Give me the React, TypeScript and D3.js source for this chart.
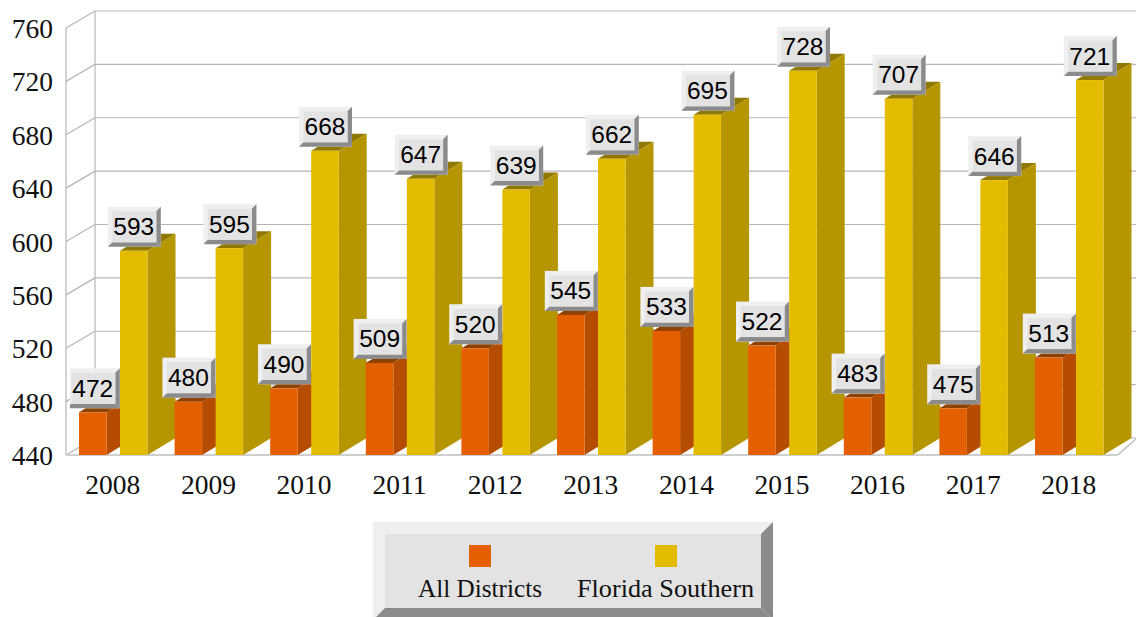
import React from "react";
import * as d3 from "d3";

const years = ["2008","2009","2010","2011","2012","2013","2014","2015","2016","2017","2018"];
const allDistricts = [472,480,490,509,520,545,533,522,483,475,513];
const floridaSouthern = [593,595,668,647,639,662,695,728,707,646,721];
const yTicks = [440,480,520,560,600,640,680,720,760];
const seriesNames = ["All Districts","Florida Southern"];

const W = 1136, H = 617;
const DX = 29, DY = -17;
const x0 = d3.scaleBand<string>().domain(years).range([66, 1117.6]);
const y = d3.scaleLinear().domain([440, 760]).range([455, 28]);
const barW = 27.5;
const GRID = "#b6b6b6";
const ORANGE = "#e35f00", ORANGE_TOP = "#8f4200", ORANGE_SIDE = "#b54c00";
const YEL = "#e3bc00", YEL_TOP = "#917800", YEL_SIDE = "#b59600";
const LIGHT = "#efefef", FACE = "#e3e3e3", DARK = "#8b8b8b";

function Bar({ x, v, c, t, s }: any) {
  const yt = y(v), yb = y(440), d = DX - 1;
  return <g>
    <polygon points={`${x},${yt} ${x+d},${yt+DY} ${x+barW+d},${yt+DY} ${x+barW},${yt}`} fill={t} />
    <polygon points={`${x+barW},${yt} ${x+barW+d},${yt+DY} ${x+barW+d},${yb+DY} ${x+barW},${yb}`} fill={s} />
    <rect x={x} y={yt} width={barW} height={yb-yt} fill={c} />
  </g>;
}

function Bevel({ x, y: yy, w, h, b, children }: any) {
  return <g>
    <rect x={x} y={yy} width={w} height={h} fill={LIGHT} />
    <polygon points={`${x+w},${yy} ${x+w},${yy+h} ${x+w-b},${yy+h-b} ${x+w-b},${yy+b}`} fill={DARK} />
    <polygon points={`${x},${yy+h} ${x+w},${yy+h} ${x+w-b},${yy+h-b} ${x+b},${yy+h-b}`} fill={DARK} />
    <rect x={x+b} y={yy+b} width={w-2*b} height={h-2*b} fill={FACE} />
    {children}
  </g>;
}

function Label({ cx, v }: any) {
  const w = 53, h = 40, by = y(v) - 4 - h, b = 4.5;
  const x = cx - w / 2;
  return <Bevel x={x} y={by} w={w} h={h} b={b}>
    <text x={cx-0.5} y={by+28.5} textAnchor="middle" fontFamily="Liberation Sans" fontSize={24.5} fill="#000">{v}</text>
  </Bevel>;
}

export default function App() {
  const xl = 66, xr = 1117.6;
  return (
    <svg width={W} height={H} style={{ position: "absolute", left: 0, top: 0, background: "#fff" }}>
      <defs><clipPath id="lab"><rect x={70} y={0} width={W} height={H} /></clipPath></defs>
      {yTicks.map(t => <g key={t}>
        <line x1={xl+DX} x2={W} y1={y(t)+DY} y2={y(t)+DY} stroke={GRID} strokeWidth={1.2} />
        <line x1={xl} x2={xl+DX} y1={y(t)} y2={y(t)+DY} stroke={GRID} strokeWidth={1.2} />
      </g>)}
      <line x1={xl} x2={xl} y1={y(760)} y2={y(440)} stroke={GRID} strokeWidth={1.2} />
      <line x1={xl+DX} x2={xl+DX} y1={y(760)+DY} y2={y(440)+DY} stroke={GRID} strokeWidth={1.2} />
      <line x1={xl} x2={xr} y1={y(440)} y2={y(440)} stroke="#cfcfcf" strokeWidth={2} />
      <line x1={xr} x2={W} y1={y(440)} y2={y(440)+DY+1} stroke={GRID} strokeWidth={1.2} />
      {years.map((yr, i) => {
        const c = x0(yr)! + x0.bandwidth() / 2;
        return <g key={yr}>
          <Bar x={c-34.8} v={allDistricts[i]} c={ORANGE} t={ORANGE_TOP} s={ORANGE_SIDE} />
          <Bar x={c+6.2} v={floridaSouthern[i]} c={YEL} t={YEL_TOP} s={YEL_SIDE} />
          <text x={c-1} y={494} textAnchor="middle" fontFamily="Liberation Serif" fontSize={27.5} fill="#111">{yr}</text>
        </g>;
      })}
      {yTicks.map(t => <text key={t} x={53} y={y(t)+10} textAnchor="end" fontFamily="Liberation Serif" fontSize={27.5} fill="#111">{t}</text>)}
      <g clipPath="url(#lab)">
        {years.map((yr, i) => {
          const c = x0(yr)! + x0.bandwidth() / 2;
          return <g key={yr}>
            <Label cx={c-20.5} v={allDistricts[i]} />
            <Label cx={c+20.5} v={floridaSouthern[i]} />
          </g>;
        })}
      </g>
      <Bevel x={373} y={522} w={400} h={98} b={12}>
        <rect x={469} y={545} width={22} height={22} fill={ORANGE} />
        <rect x={655} y={545} width={22} height={22} fill={YEL} />
        <text x={480} y={597} textAnchor="middle" textLength={124} lengthAdjust="spacingAndGlyphs" fontFamily="Liberation Serif" fontSize={25} fill="#111">{seriesNames[0]}</text>
        <text x={665.5} y={597} textAnchor="middle" textLength={177} lengthAdjust="spacingAndGlyphs" fontFamily="Liberation Serif" fontSize={25} fill="#111">{seriesNames[1]}</text>
      </Bevel>
    </svg>
  );
}
